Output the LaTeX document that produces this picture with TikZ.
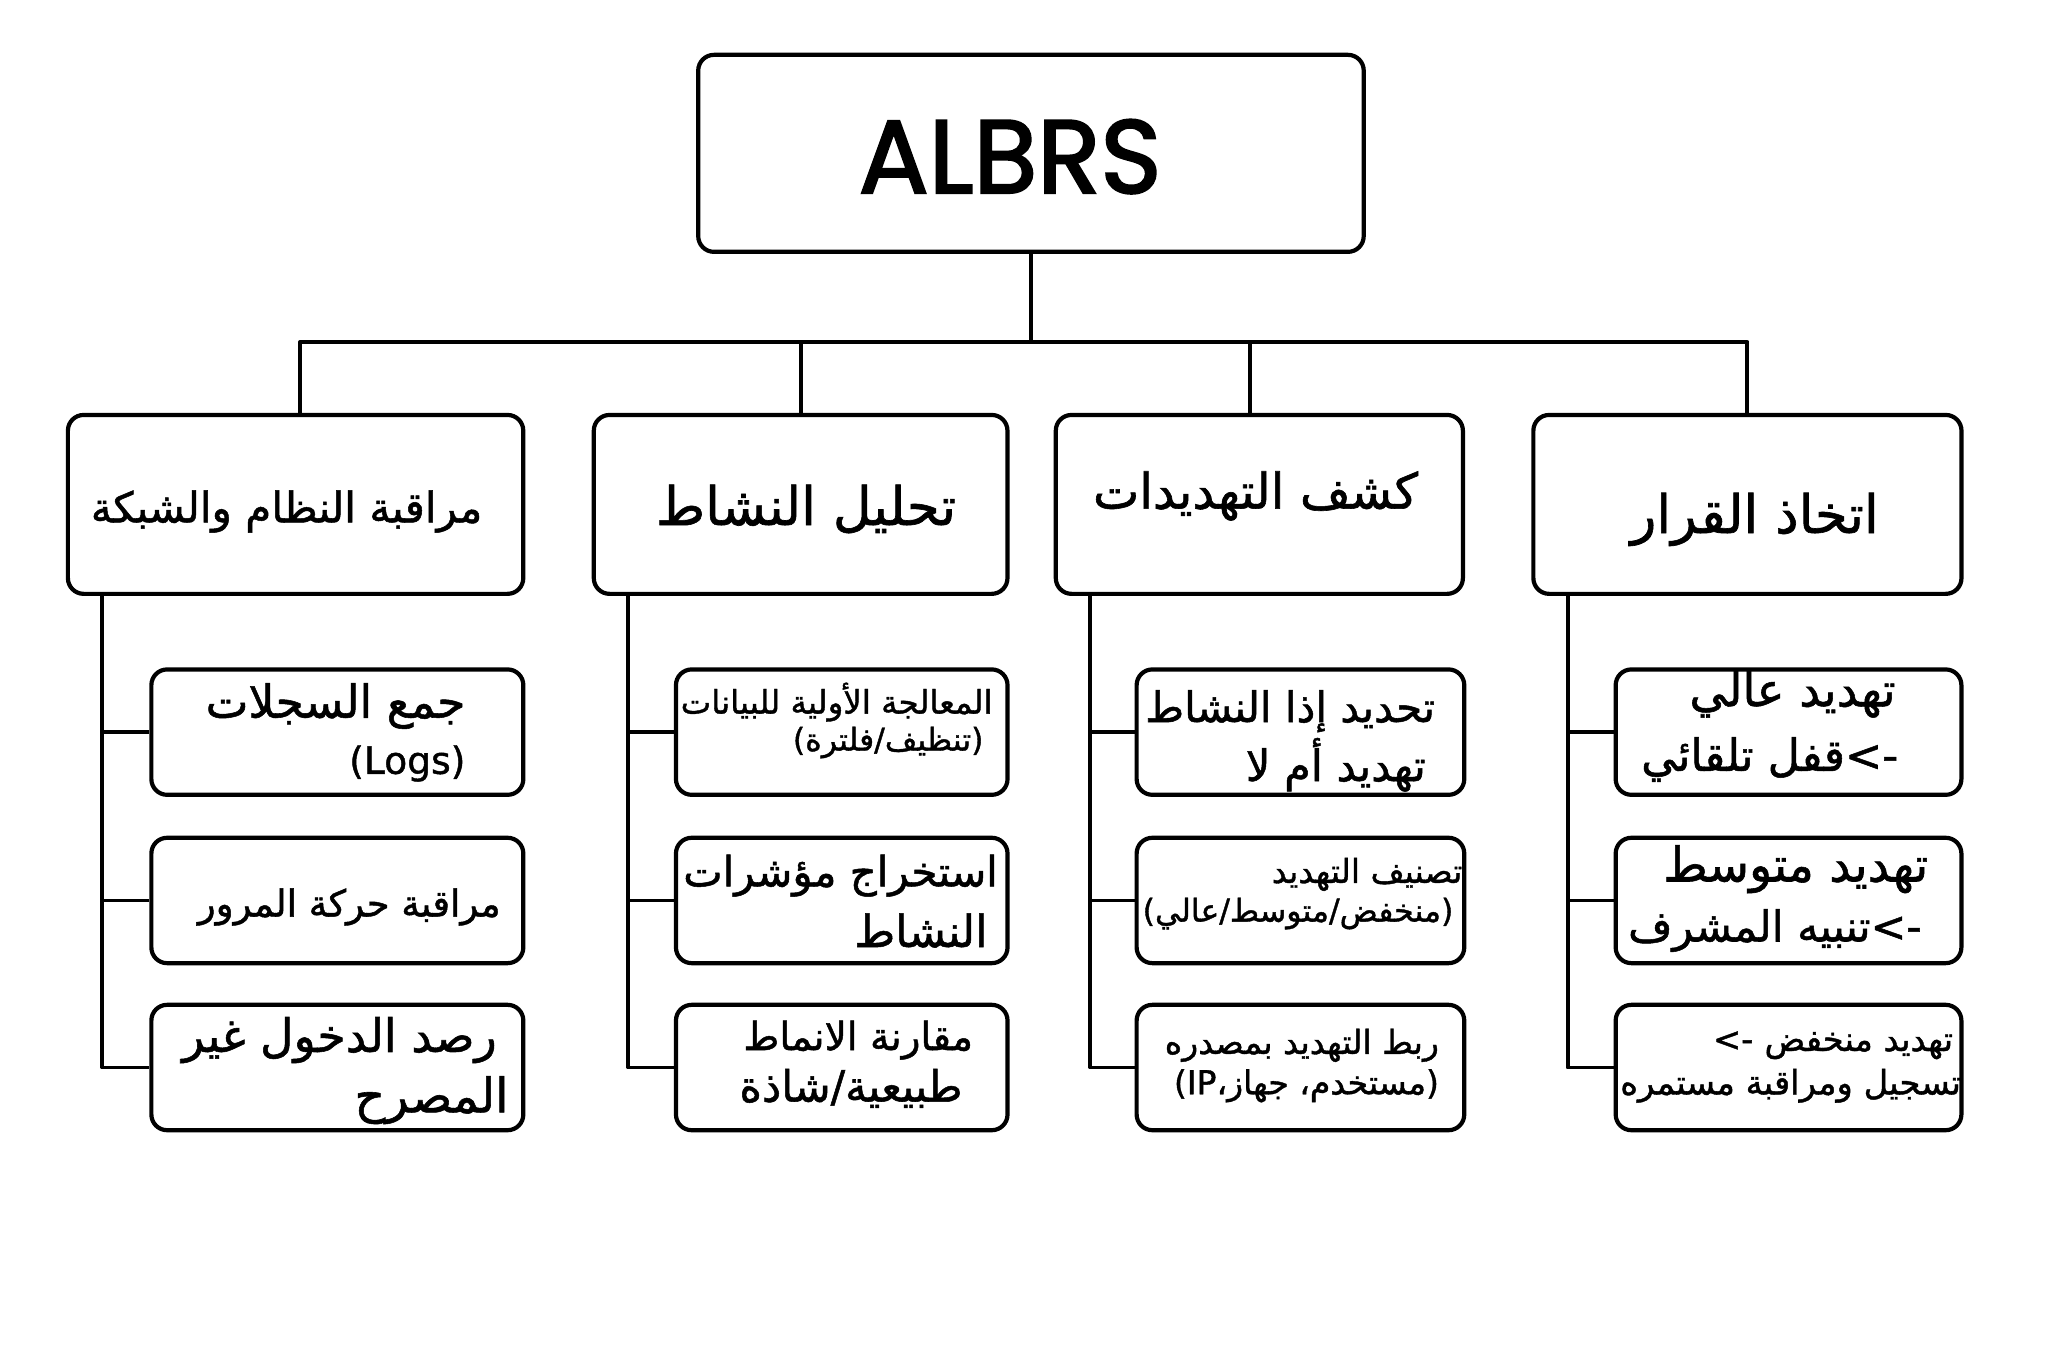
\documentclass[tikz,border=0pt]{standalone}
\usepackage{fontspec}
\usepackage{graphicx}
\TeXXeTstate=1
\newfontfamily\arabicfont[Script=Arabic,FakeBold=1.2]{DejaVu Sans}
\newfontfamily\latinfont[FakeBold=1.2]{DejaVu Sans}
\newfontfamily\titlefont[FakeBold=2.2]{Poppins}
\newlength\unitpx \setlength\unitpx{0.4975pt}
\newcommand\fitw[2]{\resizebox{#1\unitpx}{!}{#2}}
\newcommand\AR[1]{{\arabicfont\beginR #1\endR}}
\newcommand\LT[1]{{\latinfont #1}}
\begin{document}
\begin{tikzpicture}[x=0.4975pt,y=-0.4975pt,
  boxstyle/.style={draw, line width=1.6pt, rounded corners=6pt, inner sep=0pt, fill=white},
  rootbox/.style={boxstyle, minimum width=253.7pt, minimum height=75.1pt},
  headbox/.style={boxstyle, minimum height=68.2pt},
  kidbox/.style={boxstyle, minimum height=47.8pt},
  conn/.style={line width=1.5pt, line join=round},
  txt/.style={inner sep=0pt, anchor=east},
  ctxt/.style={inner sep=0pt, anchor=center}]
\useasboundingbox (0,0) rectangle (1567.8,1048.2);
\fill[white] (0,0) rectangle (1567.8,1048.2);

% boxes
\node[rootbox] (root) at (790,117.5) {};
\node[headbox, minimum width=173.6pt] (A) at (226.5,386.5) {};
\node[headbox, minimum width=157.7pt] (B) at (613.5,386.5) {};
\node[headbox, minimum width=155.2pt] (C) at (965,386.5) {};
\node[headbox, minimum width=163.2pt] (D) at (1339,386.5) {};

\foreach \n/\cx/\w in {A/258.5/141.8pt, B/645/126.4pt, C/996.5/124.9pt, D/1370.5/131.8pt}{
  \node[kidbox, minimum width=\w] (\n1) at (\cx,561) {};
  \node[kidbox, minimum width=\w] (\n2) at (\cx,690) {};
  \node[kidbox, minimum width=\w] (\n3) at (\cx,818) {};
}

% connectors
\coordinate (bus) at (790,262);
\draw[conn] (root.south) -- (bus);
\draw[conn] ([xshift=1.74pt]A.north) |- (bus) -| (D.north);
\draw[conn] (B.north) -- (B.north |- bus);
\draw[conn] ([xshift=-3.48pt]C.north) -- ([xshift=-3.48pt]C.north |- bus);
\foreach \n in {A,B,C,D}{
  \coordinate (\n sp) at ([xshift=13.9pt]\n.south west);
  \draw[conn] (\n sp) |- (\n3.west);
  \draw[conn] (\n1.west) -- (\n1.west -| \n sp);
  \draw[conn] (\n2.west) -- (\n2.west -| \n sp);
}

% texts
\node[ctxt] (rootT) at (774,120) {\fitw{232}{\titlefont ALBRS}};
\node[txt] (AT) at (370,392) {\fitw{300}{\AR{مراقبة النظام والشبكة}}};
\node[txt] (BT) at (733,390) {\fitw{230}{\AR{تحليل النشاط}}};
\node[txt] (CT) at (1087,380) {\fitw{249}{\AR{كشف التهديدات}}};
\node[txt] (DT) at (1440,398) {\fitw{190}{\AR{اتخاذ القرار}}};

\node[txt] (A1a) at (357,541) {\fitw{199}{\AR{جمع السجلات}}};
\node[txt] (A1b) at (357,585) {\fitw{89}{\LT{(Logs)}}};
\node[txt] (A2a) at (384,695) {\fitw{232}{\AR{مراقبة حركة المرور}}};
\node[txt] (A3a) at (381,797) {\fitw{241}{\AR{رصد الدخول غير}}};
\node[txt] (A3b) at (390,843) {\fitw{118}{\AR{المصرح}}};

\node[txt] (B1a) at (761,538) {\fitw{239}{\AR{المعالجة الأولية للبيانات}}};
\node[txt] (B1b) at (754,569) {\fitw{146}{\LT{(}\AR{تنظيف{}/{}فلترة}\LT{)}}};
\node[txt] (B2a) at (765,671) {\fitw{241}{\AR{استخراج مؤشرات}}};
\node[txt] (B2b) at (757,713) {\fitw{102}{\AR{النشاط}}};
\node[txt] (B3a) at (746,797) {\fitw{176}{\AR{مقارنة الانماط}}};
\node[txt] (B3b) at (738,834) {\fitw{171}{\AR{طبيعية{}/{}شاذة}}};

\node[txt] (C1a) at (1100,545) {\fitw{222}{\AR{تحديد إذا النشاط}}};
\node[txt] (C1b) at (1093,586) {\fitw{138}{\AR{تهديد أم لا}}};
\node[txt] (C2a) at (1121,670) {\fitw{146}{\AR{تصنيف التهديد}}};
\node[txt] (C2b) at (1114,700) {\fitw{238}{\LT{(}\AR{منخفض{}/{}متوسط{}/{}عالي}\LT{)}}};
\node[txt] (C3a) at (1103,801) {\fitw{210}{\AR{ربط التهديد بمصدره}}};
\node[txt] (C3b) at (1103,832) {\fitw{203}{\LT{(IP}\AR{مستخدم، جهاز،}\LT{)}}};

\node[txt] (D1a) at (1453,532) {\fitw{158}{\AR{تهديد عالي}}};
\node[txt] (D1b) at (1455,582) {\fitw{197}{\AR{قفل تلقائي}\LT{<-}}};
\node[txt] (D2a) at (1478,666) {\fitw{203}{\AR{تهديد متوسط}}};
\node[txt] (D2b) at (1473,713) {\fitw{225}{\AR{تنبيه المشرف}\LT{<-}}};
\node[txt] (D3a) at (1497,801) {\fitw{184}{\LT{<-}\ \AR{تهديد منخفض}}};
\node[txt] (D3b) at (1503,832) {\fitw{261}{\AR{تسجيل ومراقبة مستمره}}};
\end{tikzpicture}
\end{document}
